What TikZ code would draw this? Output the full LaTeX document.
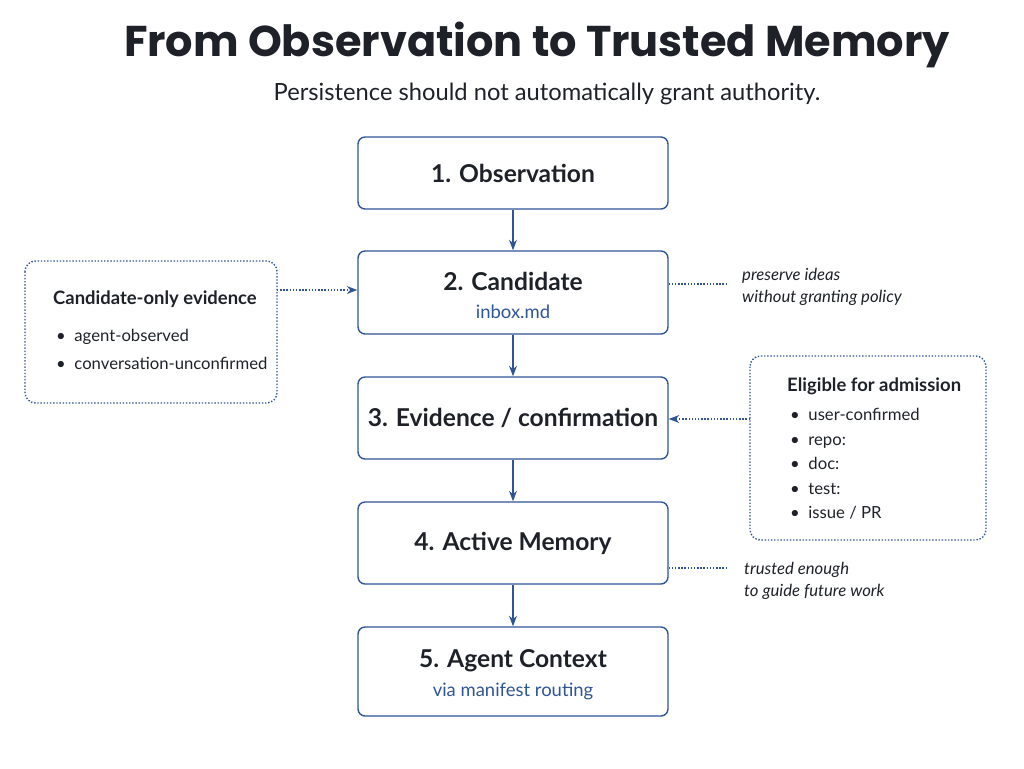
\documentclass[tikz,border=0pt]{standalone}
\usepackage{fontspec}
\setmainfont{Lato}
\newfontfamily\titlefont{Poppins}
\usetikzlibrary{arrows.meta}
\definecolor{frame}{RGB}{47, 85, 151}
\definecolor{ink}{RGB}{30, 34, 40}

\begin{document}
\begin{tikzpicture}[x=0.02cm, y=-0.02cm]
    \tikzset{
        step/.style={draw=frame, thick, rounded corners=4pt, fill=white,
            minimum width=6.2cm, minimum height=#1, align=center, text=ink},
        side/.style={draw=frame, densely dotted, thick, rounded corners=6pt},
        flow/.style={frame, thick, -{Stealth[length=6pt]}},
        hint/.style={frame, densely dotted, thick},
        sub/.style={text=frame, font=\fontsize{10.5}{12}\selectfont},
        item/.style={ink, anchor=base west, font=\fontsize{9.5}{11}\selectfont}
    }
    \useasboundingbox (0,0) rectangle (1024,768);

    % Title
    \node[ink, font=\titlefont\bfseries\fontsize{24.5}{28}\selectfont] (title) at (537,45) {From Observation to Trusted Memory};
    \node[ink, font=\fontsize{13.5}{16}\selectfont] (subtitle) at (547,94) {Persistence should not automatically grant authority.};

    % Main pipeline
    \node[step=1.44cm, font=\fontsize{14}{16}\selectfont\bfseries] (obs) at (513,173) {1. Observation};
    \node[step=1.66cm] (cand) at (513,292.5) {};
    \node[ink, font=\fontsize{14}{16}\selectfont\bfseries] (candt) at (513,281) {2. Candidate};
    \node[sub] (candf) at (513,312) {inbox.md};
    \node[step=1.64cm, font=\fontsize{14}{16}\selectfont\bfseries] (evid) at (513,418) {3. Evidence / confirmation};
    \node[step=1.64cm, font=\fontsize{14}{16}\selectfont\bfseries] (act) at (513,543) {4. Active Memory};
    \node[step=1.78cm] (ctx) at (513,671.5) {};
    \node[ink, font=\fontsize{14}{16}\selectfont\bfseries] (ctxt) at (513,661) {5. Agent Context};
    \node[sub] (ctxf) at (513,691) {via manifest routing};

    \draw[flow] (obs) -- (cand);
    \draw[flow] (cand) -- (evid);
    \draw[flow] (evid) -- (act);
    \draw[flow] (act) -- (ctx);

    % Left box
    \draw[side] (25,261) rectangle (277,403);
    \node[ink, anchor=west, font=\fontsize{10.5}{12}\selectfont\bfseries] (lhead) at (47,299) {Candidate-only evidence};
    \node[item] (l1) at (50,341) {\textbullet\ \ agent-observed};
    \node[item] (l2) at (50,369) {\textbullet\ \ conversation-unconfirmed};
    \coordinate (lout) at (277,290);
    \draw[hint, -{Stealth[length=6pt]}] (lout) -- (cand.west |- lout);

    % Right box
    \draw[side] (750,356) rectangle (986,540);
    \node[ink, anchor=west, font=\fontsize{10.5}{12}\selectfont\bfseries] (rhead) at (781,386) {Eligible for admission};
    \foreach \t [count=\i] in {user-confirmed, repo:, doc:, test:, issue / PR} {
        \node[item] (r\i) at (784,396+\i*24.5) {\textbullet\ \ \t};
    }
    \coordinate (rout) at (750,419);
    \draw[hint, -{Stealth[length=6pt]}] (rout) -- (evid.east |- rout);

    % Notes
    \coordinate (n1) at (727,284);
    \draw[hint] (cand.east |- n1) -- (n1);
    \node[ink, anchor=west, align=left, font=\fontsize{9.5}{12.5}\selectfont\itshape] (note1) at (736,287) {preserve ideas\\without granting policy};
    \coordinate (n2) at (727,568);
    \draw[hint] (act.east |- n2) -- (n2);
    \node[ink, anchor=west, align=left, font=\fontsize{9.5}{12.5}\selectfont\itshape] (note2) at (738,581) {trusted enough\\to guide future work};
\end{tikzpicture}
\end{document}
